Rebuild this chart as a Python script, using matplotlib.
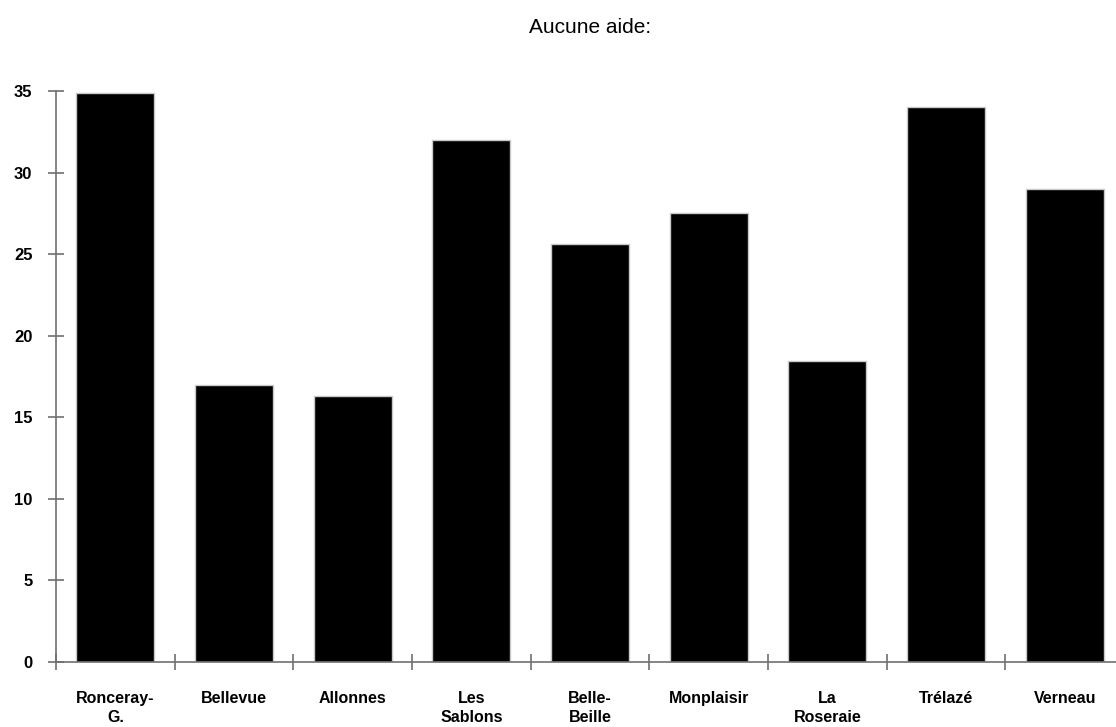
import numpy as np
import matplotlib.pyplot as plt

# quartiers and values
quartiers = ['Ronceray-\nG.', 'Bellevue', 'Allonnes', 'Les\nSablons', 'Belle-\nBeille',
             'Monplaisir', 'La\nRoseraie', 'Trélazé', 'Verneau']
valeurs = [34.9, 17.0, 16.3, 32.0, 25.6, 27.5, 18.45, 34.0, 29.0]
yticks = [0, 5, 10, 15, 20, 25, 30, 35]
titre = 'Aucune aide:'

plt.rcParams['font.family'] = ['Liberation Sans', 'DejaVu Sans']

fig = plt.figure(figsize=(11.16, 7.27), dpi=100)
# the plot area runs a little past the right edge, as in the original
ax = fig.add_axes([56 / 1116, 65 / 727, 1068 / 1116, 571 / 727])

x = np.arange(len(quartiers))
ax.bar(x, valeurs, width=0.66, color='black', edgecolor='#c8c8c8', linewidth=1, zorder=2)

ax.set_xlim(-0.5, len(quartiers) - 0.5)
ax.set_ylim(0, 35)

for s in ['top', 'right']:
    ax.spines[s].set_visible(False)
for s in ['left', 'bottom']:
    ax.spines[s].set_color('#707070')
    ax.spines[s].set_linewidth(1.2)

# boundary ticks on x, labels on minor ticks at bar centres
ax.set_xticks(np.arange(-0.5, len(quartiers), 1.0))
ax.set_xticklabels([])
ax.set_xticks(x, minor=True)
ax.set_xticklabels(quartiers, minor=True, fontsize=11.5, fontweight='bold', linespacing=1.35)
ax.tick_params(axis='x', which='major', direction='inout', length=12, width=1.2, color='#707070')
ax.tick_params(axis='x', which='minor', length=0, pad=21)

ax.set_yticks(yticks)
ax.set_yticklabels([str(v) for v in yticks], fontsize=12, fontweight='bold')
ax.tick_params(axis='y', direction='inout', length=12, width=1.2, color='#707070', pad=11)

fig.text(590 / 1116, 1 - 33 / 727, titre, ha='center', va='baseline', fontsize=15)

fig.savefig('out.png', dpi=100)
